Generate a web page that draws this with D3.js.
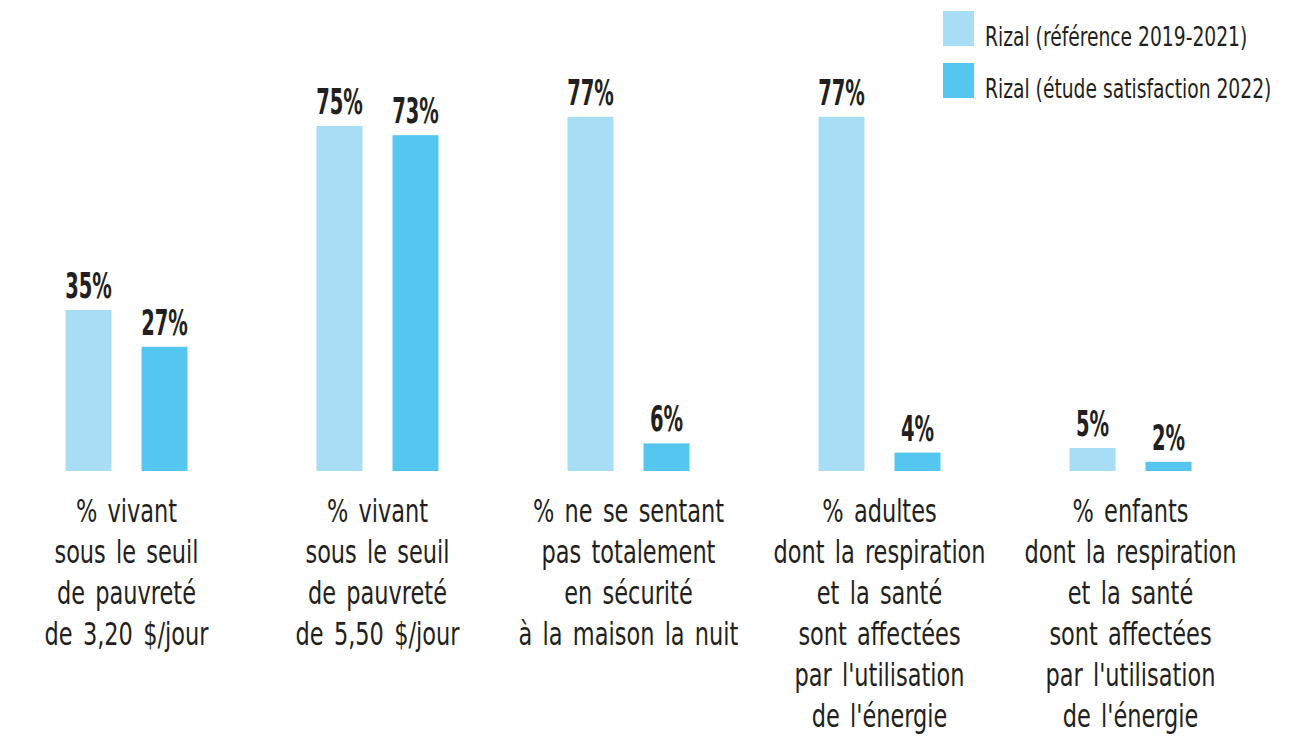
<!DOCTYPE html>
<html>
<head>
<meta charset="utf-8">
<script src="https://cdn.jsdelivr.net/npm/d3@7"></script>
<style>
  body { margin: 0; background: #fff; }
  svg { display: block; }
  text { font-family: "DejaVu Sans Condensed", "DejaVu Sans", sans-serif; fill: #231f20; }
</style>
</head>
<body>
<svg id="chart" width="1304" height="736"></svg>
<script>
// categories (each label split in lines as in the picture)
const categories = [
  ["% vivant", "sous le seuil", "de pauvreté", "de 3,20 $/jour"],
  ["% vivant", "sous le seuil", "de pauvreté", "de 5,50 $/jour"],
  ["% ne se sentant", "pas totalement", "en sécurité", "à la maison la nuit"],
  ["% adultes", "dont la respiration", "et la santé", "sont affectées", "par l'utilisation", "de l'énergie"],
  ["% enfants", "dont la respiration", "et la santé", "sont affectées", "par l'utilisation", "de l'énergie"]
];
const seriesNames = ["Rizal (référence 2019-2021)", "Rizal (étude satisfaction 2022)"];
const reference2019 = [35, 75, 77, 77, 5];
const satisfaction2022 = [27, 73, 6, 4, 2];
const colors = ["#a8ddf6", "#54c6f0"];

const svg = d3.select("#chart");
const baseline = 471;

// group scale + scale inside each group
const x0 = d3.scaleBand()
  .domain(d3.range(categories.length))
  .range([1, 1256])
  .paddingInner(0.514)
  .paddingOuter(0.257);

const x1 = d3.scaleBand()
  .domain([0, 1])
  .range([0, x0.bandwidth()])
  .paddingInner(0.395)
  .paddingOuter(0);

const y = d3.scaleLinear()
  .domain([0, 100])
  .range([baseline, baseline - 460]);

const rows = categories.map((c, i) => ({ i, values: [reference2019[i], satisfaction2022[i]] }));

const groups = svg.selectAll("g.group")
  .data(rows)
  .enter().append("g")
    .attr("class", "group")
    .attr("transform", d => "translate(" + x0(d.i) + ",0)");

groups.selectAll("rect")
  .data(d => d.values.map((v, s) => ({ v, s })))
  .enter().append("rect")
    .attr("x", d => x1(d.s))
    .attr("width", x1.bandwidth())
    .attr("y", d => y(d.v))
    .attr("height", d => baseline - y(d.v))
    .style("fill", d => colors[d.s]);

// value labels (squeezed horizontally to look like the condensed face)
groups.selectAll("text.value")
  .data(d => d.values.map((v, s) => ({ v, s })))
  .enter().append("text")
    .attr("class", "value")
    .attr("transform", d => "translate(" + (x1(d.s) + x1.bandwidth() / 2) + "," + (y(d.v) - 12) + ") scale(0.62,1)")
    .attr("text-anchor", "middle")
    .style("font-size", "35px")
    .style("font-weight", "bold")
    .text(d => d.v + "%");

// category labels under the bars
groups.append("text")
    .attr("class", "cat")
    .attr("transform", "translate(" + x0.bandwidth() / 2 + ",0) scale(0.78,1)")
    .attr("text-anchor", "middle")
    .style("font-size", "32px")
    .style("word-spacing", "4px")
    .selectAll("tspan")
    .data(d => categories[d.i])
    .enter().append("tspan")
      .attr("x", 0)
      .attr("y", (d, k) => 522 + k * 41)
      .text(d => d);

// legend
const legend = svg.append("g").attr("transform", "translate(943,11)");
const item = legend.selectAll("g")
  .data(seriesNames)
  .enter().append("g")
    .attr("transform", (d, i) => "translate(0," + i * 52 + ")");
item.append("rect")
  .attr("width", 31)
  .attr("height", 35)
  .style("fill", (d, i) => colors[i]);
item.append("text")
  .attr("transform", "translate(42,35) scale(0.8,1)")
  .style("font-size", "26px")
  .text(d => d);
</script>
</body>
</html>
